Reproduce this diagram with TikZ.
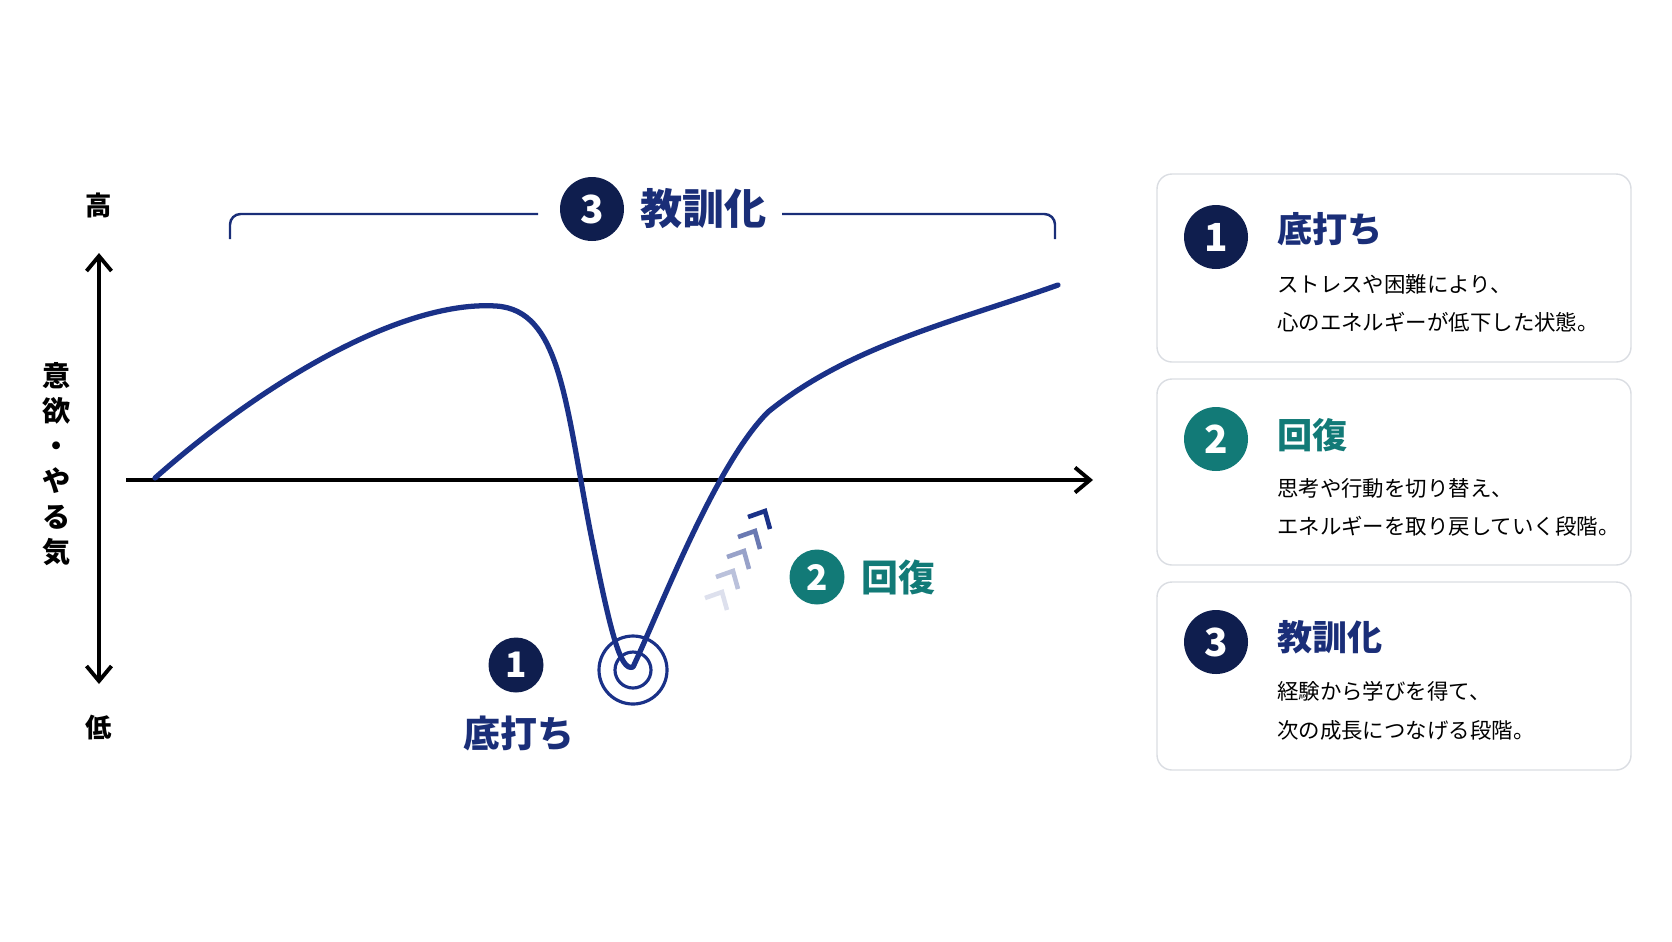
\documentclass[tikz,border=0pt]{standalone}
\usepackage{fontspec}
\setmainfont{Noto Sans CJK JP}
\usetikzlibrary{arrows.meta,positioning}
\definecolor{navy}{HTML}{0F1E4E}
\definecolor{curveblue}{HTML}{1A3188}
\definecolor{teal}{HTML}{127A77}
\definecolor{titleblue}{HTML}{1A2E78}
\definecolor{boxgrey}{HTML}{DADDE2}
\tikzset{
  numdot/.style={circle, fill=#1, text=white, font=\fontsize{20}{20}\selectfont\bfseries, minimum size=1.1cm, inner sep=0pt},
  bignum/.style={circle, fill=#1, text=white, font=\fontsize{22}{22}\selectfont\bfseries, minimum size=1.28cm, inner sep=0pt},
  infobox/.style={draw=boxgrey, line width=0.8pt, rounded corners=0.3cm},
  boxtitle/.style={anchor=west, text=#1, font=\fontsize{20}{20}\selectfont\bfseries},
  boxtext/.style={anchor=west, font=\fontsize{12.2}{12}\selectfont},
  axlabel/.style={font=\fontsize{15}{15}\selectfont\bfseries},
}
\begin{document}
\begin{tikzpicture}[x=0.02cm, y=-0.02cm]
\useasboundingbox (0,0) rectangle (1672,941);

% axes
\coordinate (xa) at (126,480);
\coordinate (xb) at (1093,480);
\coordinate (ya) at (99,684);
\coordinate (yb) at (99,253);
\draw[line width=2.2pt, -{Straight Barb[length=3mm,width=5mm]}] (xa) -- (xb);
\draw[line width=2.2pt, {Straight Barb[length=3mm,width=5mm]}-{Straight Barb[length=3mm,width=5mm]}] (ya) -- (yb);
\node[axlabel] (hi) at (99,205) {高};
\node[axlabel] (lo) at (99,728) {低};
\node[axlabel, align=center, font=\fontsize{16}{20}\selectfont\bfseries] (ylab) at (57,464) {意\\欲\\・\\や\\る\\気};

% bracket with title
\node[bignum=navy] (n3) at (592,209) {3};
\node[anchor=west, text=titleblue, font=\fontsize{24}{24}\selectfont\bfseries] (t3) at (634,209) {教訓化};
\coordinate (bl) at (230,239);
\coordinate (br) at (1055,239);
\draw[titleblue, line width=1.4pt, rounded corners=6pt] (bl) -- (230,214) -- (538,214);
\draw[titleblue, line width=1.4pt, rounded corners=6pt] (782,214) -- (1055,214) -- (br);

% curve
\draw[curveblue, line width=3pt, line join=round, line cap=round]
  (155,478) .. controls (260,385) and (400,300) .. (496,306)
  .. controls (560,310) and (565,400) .. (590,530)
  .. controls (610,630) and (620,672) .. (633,667)
  .. controls (660,610) and (715,465) .. (768,412)
  .. controls (850,345) and (960,320) .. (1058,285);

% bottom marker
\coordinate (bottom) at (633,670);
\draw[curveblue, line width=1.8pt] (bottom) circle (34);
\draw[curveblue, line width=1.8pt] (bottom) circle (18);

% chevrons
\foreach \x/\y/\o in {722/592/0.15, 733/571/0.3, 744/551/0.45, 755/531/0.65, 765/511/1}
  \draw[curveblue, opacity=\o, line width=2.6pt] (\x-17,\y+6) -- (\x,\y) -- (\x+5,\y+18);

% phase labels
\node[numdot=teal] (n2) at (817,577) {2};
\node[anchor=west, text=teal, font=\fontsize{21}{21}\selectfont\bfseries] (t2) at (855,577) {回復};
\node[numdot=navy] (n1) at (516,665) {1};
\node[text=titleblue, font=\fontsize{21}{21}\selectfont\bfseries] (t1) at (519,733) {底打ち};

% right boxes
\draw[infobox] (1157,174) rectangle (1631,362);
\draw[infobox] (1157,379) rectangle (1631,565);
\draw[infobox] (1157,582) rectangle (1631,770);

\node[bignum=navy] (b1) at (1216,237) {1};
\node[boxtitle=titleblue] (bt1) at (1271,229) {底打ち};
\node[boxtext] (bl1a) at (1271,284) {ストレスや困難により、};
\node[boxtext] (bl1b) at (1271,322) {心のエネルギーが低下した状態。};

\node[bignum=teal] (b2) at (1216,439) {2};
\node[boxtitle=teal] (bt2) at (1271,435) {回復};
\node[boxtext] (bl2a) at (1271,488) {思考や行動を切り替え、};
\node[boxtext] (bl2b) at (1271,526) {エネルギーを取り戻していく段階。};

\node[bignum=navy] (b3) at (1216,642) {3};
\node[boxtitle=titleblue] (bt3) at (1271,637) {教訓化};
\node[boxtext] (bl3a) at (1271,691) {経験から学びを得て、};
\node[boxtext] (bl3b) at (1271,730) {次の成長につなげる段階。};
\end{tikzpicture}
\end{document}
